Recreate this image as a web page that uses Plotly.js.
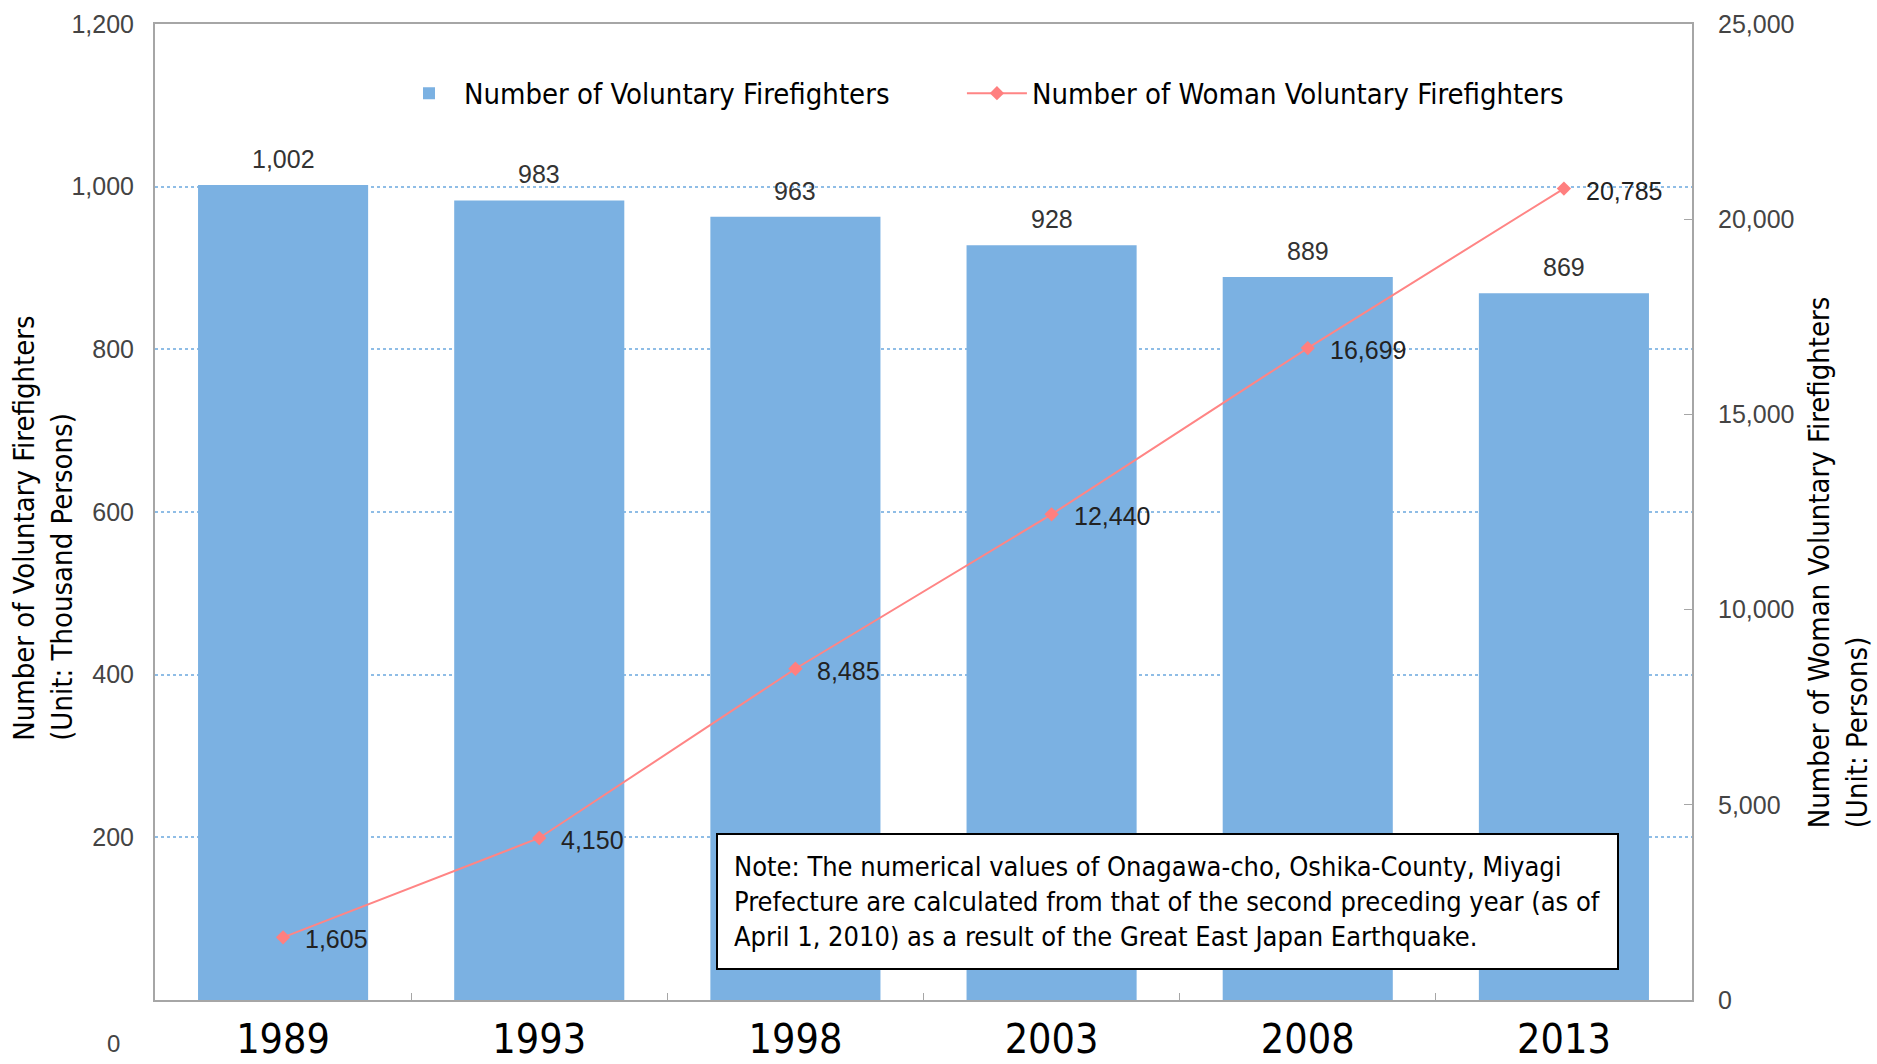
<!DOCTYPE html>
<html>
<head>
<meta charset="utf-8">
<script src="https://cdn.plot.ly/plotly-3.0.1.min.js"></script>
<style>html,body{margin:0;padding:0;background:#fff;}#chart{width:1877px;height:1064px;}</style>
</head>
<body>
<div id="chart"></div>
<script>
// ---- data ----
const years = ['1989', '1993', '1998', '2003', '2008', '2013'];
const firefighters = [1002, 983, 963, 928, 889, 869];          // thousand persons
const womenFirefighters = [1605, 4150, 8485, 12440, 16699, 20785]; // persons
const leftTickVals = [0, 200, 400, 600, 800, 1000, 1200];
const leftTickText = ['', '200', '400', '600', '800', '1,000', '1,200'];
const rightTickVals = [0, 5000, 10000, 15000, 20000, 25000];
const rightTickText = ['0', '5,000', '10,000', '15,000', '20,000', '25,000'];
const seriesNames = ['Number of Voluntary Firefighters', 'Number of Woman Voluntary Firefighters'];
const leftTitle = 'Number of Voluntary Firefighters<br>(Unit: Thousand Persons)';
const rightTitle = 'Number of Woman Voluntary Firefighters<br>(Unit: Persons)';
const noteText = 'Note: The numerical values of Onagawa-cho, Oshika-County, Miyagi<br>Prefecture are calculated from that of the second preceding year (as of<br>April 1, 2010) as a result of the Great East Japan Earthquake.';

const fmt = v => v.toLocaleString('en-US');

const CAL = "'Liberation Sans Narrow', 'Arial Narrow', 'DejaVu Sans Condensed', 'Roboto', sans-serif";
const NUM = "'Liberation Sans', Arial, sans-serif";
const axisGray = '#a6a6a6';

const traces = [
  {
    type: 'bar', x: years, y: firefighters, name: seriesNames[0],
    marker: {color: '#7bb1e2'}, yaxis: 'y', legend: 'legend'
  },
  {
    type: 'scatter', mode: 'lines+markers', x: years, y: womenFirefighters, name: seriesNames[1],
    line: {color: '#ff8585', width: 2}, marker: {symbol: 'diamond', size: 11, color: '#ff7f7f'},
    yaxis: 'y2', legend: 'legend2'
  }
];

const annotations = [];
years.forEach((yr, i) => {
  // category axis: position annotations by category index
  annotations.push({x: i, y: firefighters[i], xref: 'x', yref: 'y', text: fmt(firefighters[i]),
    showarrow: false, xanchor: 'center', yanchor: 'bottom', yshift: 10,
    font: {family: NUM, size: 25, color: '#333'}});
  annotations.push({x: i, y: womenFirefighters[i], xref: 'x', yref: 'y2', text: fmt(womenFirefighters[i]),
    showarrow: false, xanchor: 'left', yanchor: 'middle', xshift: 20, yshift: -2,
    font: {family: NUM, size: 25, color: '#222'}});
});
annotations.push({x: -0.0267, y: -0.045, xref: 'paper', yref: 'paper', text: '0', showarrow: false,
  xanchor: 'center', yanchor: 'middle', font: {family: NUM, size: 24, color: '#444'}});
annotations.push({x: -0.0976, y: 0.264, xref: 'paper', yref: 'paper', text: leftTitle, showarrow: false,
  textangle: -90, align: 'left', xanchor: 'left', yanchor: 'bottom',
  font: {family: CAL, size: 29, color: '#000'}});
annotations.push({x: 1.0705, y: 0.1742, xref: 'paper', yref: 'paper', text: rightTitle, showarrow: false,
  textangle: -90, align: 'left', xanchor: 'left', yanchor: 'bottom',
  font: {family: CAL, size: 29, color: '#000'}});
annotations.push({x: 0.365, y: 0.171, xref: 'paper', yref: 'paper', text: noteText, showarrow: false,
  align: 'left', xanchor: 'left', yanchor: 'top', bgcolor: '#fff', bordercolor: '#000', borderwidth: 2,
  borderpad: 16, font: {family: CAL, size: 27, color: '#000'}});

const legendFont = {family: CAL, size: 29, color: '#000'};
const layout = {
  width: 1877, height: 1064,
  margin: {l: 155, r: 185, t: 24, b: 64},
  paper_bgcolor: '#fff', plot_bgcolor: '#fff',
  bargap: 0.336,
  showlegend: true,
  legend: {orientation: 'h', x: 0.1555, y: 0.929, xanchor: 'left', yanchor: 'middle',
    font: legendFont, bgcolor: 'rgba(0,0,0,0)', itemwidth: 60},
  legend2: {orientation: 'h', x: 0.525, y: 0.929, xanchor: 'left', yanchor: 'middle',
    font: legendFont, bgcolor: 'rgba(0,0,0,0)', itemwidth: 60},
  xaxis: {
    type: 'category', showline: true, linecolor: axisGray, linewidth: 2, mirror: true,
    ticks: 'inside', tickson: 'boundaries', ticklen: 7, tickcolor: axisGray, tickangle: 0,
    tickfont: {family: CAL, size: 41, color: '#000'}, showgrid: false, zeroline: false,
    ticklabelstandoff: 2
  },
  yaxis: {
    range: [0, 1200], tickvals: leftTickVals, ticktext: leftTickText,
    showline: true, linecolor: axisGray, linewidth: 2, ticks: '',
    tickfont: {family: NUM, size: 25, color: '#444'},
    showgrid: true, gridcolor: '#8fbde6', gridwidth: 2, griddash: 'dot', zeroline: false,
    ticklabelstandoff: 14
  },
  yaxis2: {
    range: [0, 25000], tickvals: rightTickVals, ticktext: rightTickText, overlaying: 'y', side: 'right',
    showline: true, linecolor: axisGray, linewidth: 2, ticks: 'inside', ticklen: 8, tickcolor: axisGray,
    tickfont: {family: NUM, size: 25, color: '#444'}, showgrid: false, zeroline: false,
    ticklabelstandoff: 19
  },
  annotations: annotations
};

Plotly.newPlot('chart', traces, layout, {displayModeBar: false, staticPlot: true});
</script>
</body>
</html>
